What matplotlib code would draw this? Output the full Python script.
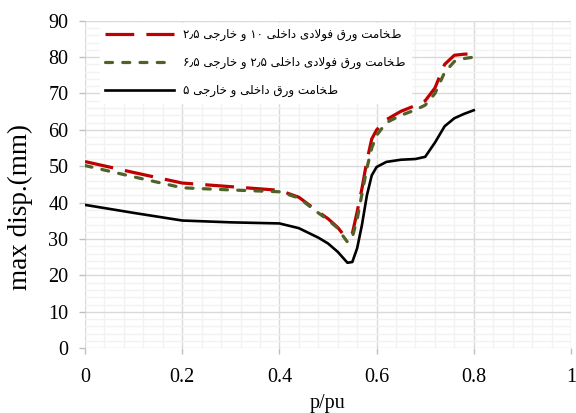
import numpy as np
import matplotlib.pyplot as plt
from matplotlib.ticker import MultipleLocator, FuncFormatter

# بار نسبی و بیشینه تغییرمکان برای سه حالت ضخامت ورق
p_pu = [0, 0.1, 0.2, 0.3, 0.4, 0.44, 0.48, 0.5, 0.52, 0.53, 0.54, 0.55,
        0.56, 0.57, 0.58, 0.59, 0.6, 0.62, 0.65, 0.68, 0.7, 0.72, 0.74,
        0.76, 0.78, 0.8]
disp_10_25 = [51.3, 48.3, 45.4, 44.4, 43.4, 41.5, 37.5, 35.6, 33.2, 31.5,
              30.5, 31.5, 37.5, 44.0, 51.5, 57.5, 60.0, 62.8, 65.1, 66.7,
              68.0, 71.5, 78.0, 80.5, 80.8, 80.9]
disp_25_65 = [50.2, 47.1, 44.1, 43.5, 43.0, 41.3, 37.2, 35.3, 33.0, 31.0,
              29.2, 30.5, 35.5, 42.5, 49.5, 55.0, 58.5, 62.0, 64.0, 65.5,
              66.8, 70.0, 75.8, 78.8, 79.6, 80.0]
disp_5 = [39.4, 37.2, 35.1, 34.6, 34.3, 33.0, 30.4, 28.8, 26.5, 25.0,
          23.5, 23.7, 27.5, 34.0, 42.0, 47.5, 49.8, 51.2, 51.8, 52.0,
          52.6, 56.5, 61.0, 63.2, 64.4, 65.4]

labels = ['ضخامت ورق فولادی داخلی ۱۰ و خارجی ۲٫۵',
          'ضخامت ورق فولادی داخلی ۲٫۵ و خارجی ۶٫۵',
          'ضخامت ورق داخلی و خارجی ۵']

# شکل‌های نمایشی حروف: (تنها، پایانی، آغازی، میانی)
FORMS = {
    'ا': ('\uFE8D', '\uFE8E'),
    'د': ('\uFEA9', '\uFEAA'),
    'ر': ('\uFEAD', '\uFEAE'),
    'و': ('\uFEED', '\uFEEE'),
    'لا': ('\uFEFB', '\uFEFC'),
    'ت': ('\uFE95', '\uFE96', '\uFE97', '\uFE98'),
    'ج': ('\uFE9D', '\uFE9E', '\uFE9F', '\uFEA0'),
    'خ': ('\uFEA5', '\uFEA6', '\uFEA7', '\uFEA8'),
    'ض': ('\uFEBF', '\uFEC0', '\uFEC1', '\uFEC2'),
    'ف': ('\uFED1', '\uFED2', '\uFED3', '\uFED4'),
    'ق': ('\uFED5', '\uFED6', '\uFED7', '\uFED8'),
    'ل': ('\uFEDD', '\uFEDE', '\uFEDF', '\uFEE0'),
    'م': ('\uFEE1', '\uFEE2', '\uFEE3', '\uFEE4'),
    'ی': ('\uFBFC', '\uFBFD', '\uFBFE', '\uFBFF'),
}
DIGITS = set('۰۱۲۳۴۵۶۷۸۹٫')


def shape_word(word):
    letters = []
    i = 0
    while i < len(word):
        if word[i] == 'ل' and word[i + 1:i + 2] == 'ا':
            letters.append('لا')
            i += 2
        else:
            letters.append(word[i])
            i += 1
    out = []
    for k, ch in enumerate(letters):
        forms = FORMS[ch]
        prev_joins = k > 0 and len(FORMS[letters[k - 1]]) == 4
        has_next = k < len(letters) - 1
        if prev_joins and has_next and len(forms) == 4:
            out.append(forms[3])
        elif prev_joins:
            out.append(forms[1])
        elif has_next and len(forms) == 4:
            out.append(forms[2])
        else:
            out.append(forms[0])
    return ''.join(reversed(out))


def rtl(text):
    words = text.split(' ')
    return ' '.join(w if set(w) <= DIGITS else shape_word(w)
                    for w in reversed(words))


plt.rcParams['font.family'] = ['Liberation Serif', 'DejaVu Sans']

fig = plt.figure(figsize=(5.76, 4.13), dpi=100)
ax = fig.add_axes([0.1476, 0.1567, 0.8437, 0.7932])

ax.plot(p_pu, disp_10_25, color='#C00000', lw=2.3,
        dashes=(9.0, 3.8), label=rtl(labels[0]))
ax.plot(p_pu, disp_25_65, color='#4F6228', lw=2.3,
        dashes=(2.2, 3.2), dash_capstyle='round', label=rtl(labels[1]))
ax.plot(p_pu, disp_5, color='black', lw=1.9, label=rtl(labels[2]))

ax.set_xlim(0, 1)
ax.set_ylim(0, 90)
ax.xaxis.set_major_locator(MultipleLocator(0.2))
ax.xaxis.set_minor_locator(MultipleLocator(0.04))
ax.yaxis.set_major_locator(MultipleLocator(10))
ax.yaxis.set_minor_locator(MultipleLocator(2))
ax.xaxis.set_major_formatter(FuncFormatter(lambda v, pos: f'{v:g}'))
ax.yaxis.set_major_formatter(FuncFormatter(lambda v, pos: f'{v:g}'))

ax.grid(which='major', color='#d9d9d9', lw=1.0, zorder=0)
ax.grid(which='minor', color='#f2f2f2', lw=1.0, zorder=0)
ax.set_axisbelow(True)
for s in ax.spines.values():
    s.set_visible(False)
ax.tick_params(which='major', direction='out', length=4, width=1,
               color='#bfbfbf', labelsize=14.5, pad=8)
ax.tick_params(axis='x', which='major', pad=10)
ax.tick_params(which='minor', length=0)

ax.set_xlabel('p/pu', fontsize=14.5, labelpad=5)
ax.set_ylabel('max disp.(mm)', fontsize=19.5)
ax.yaxis.set_label_coords(-0.107, 0.43)

leg = ax.legend(loc='upper left', bbox_to_anchor=(0.018, 1.012),
                prop={'family': 'DejaVu Sans', 'size': 8.6},
                handlelength=5.8, handletextpad=0.7, labelspacing=1.25,
                borderpad=0.45, frameon=True, fancybox=False,
                facecolor='white', edgecolor='white', framealpha=1)

fig.savefig('out.png', dpi=100)
